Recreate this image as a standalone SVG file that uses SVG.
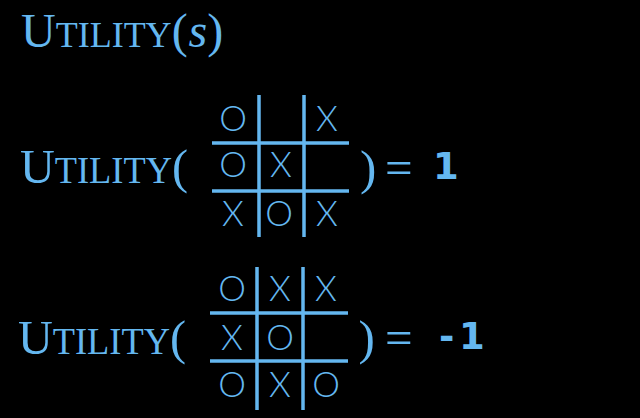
<svg xmlns="http://www.w3.org/2000/svg" width="640" height="418" viewBox="0 0 640 418">
<style>
.bg{fill:#000}
.serif{font-family:"Liberation Serif","Times New Roman",serif;fill:#64b7f0}
.big{font-size:49px}
.sc{font-size:37px}
.mark{font-family:Lato,"Open Sans","Noto Sans",sans-serif;font-weight:300;font-size:35px;fill:#64b7f0;text-anchor:middle}
.num{font-family:"DejaVu Sans","Liberation Sans",sans-serif;font-weight:bold;font-size:37px;fill:#64b7f0}
.grid line{stroke:#64b7f0;stroke-width:3.5;stroke-linecap:butt}
</style>
<rect class="bg" x="0" y="0" width="640" height="418"/>

<g id="title">
<text class="serif" x="21" y="47" font-size="48">U<tspan font-size="36">TILITY</tspan>(<tspan font-style="italic" dx="1">s</tspan>)</text>
</g>

<g id="utility-win">
<text class="serif big" x="20" y="183" textLength="168" lengthAdjust="spacingAndGlyphs">U<tspan class="sc">TILITY</tspan>(</text>
<g class="grid" id="board-win">
<line x1="259" y1="95" x2="259" y2="237"/>
<line x1="304" y1="95" x2="304" y2="237"/>
<line x1="212" y1="143" x2="349" y2="143"/>
<line x1="212" y1="191" x2="349" y2="191"/>
</g>
<text class="mark" x="233" y="131">O</text>
<text class="mark" x="327" y="131">X</text>
<text class="mark" x="233" y="177">O</text>
<text class="mark" x="281" y="177">X</text>
<text class="mark" x="233" y="226">X</text>
<text class="mark" x="279" y="226">O</text>
<text class="mark" x="327" y="226">X</text>
<text class="serif big" x="360" y="184">)<tspan x="385">=</tspan></text>
<text class="num" x="433" y="179">1</text>
</g>

<g id="utility-lose">
<text class="serif big" x="18" y="354" textLength="168" lengthAdjust="spacingAndGlyphs">U<tspan class="sc">TILITY</tspan>(</text>
<g class="grid" id="board-lose">
<line x1="257" y1="267" x2="257" y2="410"/>
<line x1="303" y1="267" x2="303" y2="410"/>
<line x1="210" y1="313" x2="348" y2="313"/>
<line x1="210" y1="361" x2="348" y2="361"/>
</g>
<text class="mark" x="232" y="301">O</text>
<text class="mark" x="280" y="301">X</text>
<text class="mark" x="326" y="301">X</text>
<text class="mark" x="232" y="350">X</text>
<text class="mark" x="280" y="350">O</text>
<text class="mark" x="232" y="397">O</text>
<text class="mark" x="280" y="397">X</text>
<text class="mark" x="326" y="397">O</text>
<text class="serif big" x="358.5" y="354">)<tspan x="385">=</tspan></text>
<text class="num" x="439 459" y="349">-1</text>
</g>
</svg>
